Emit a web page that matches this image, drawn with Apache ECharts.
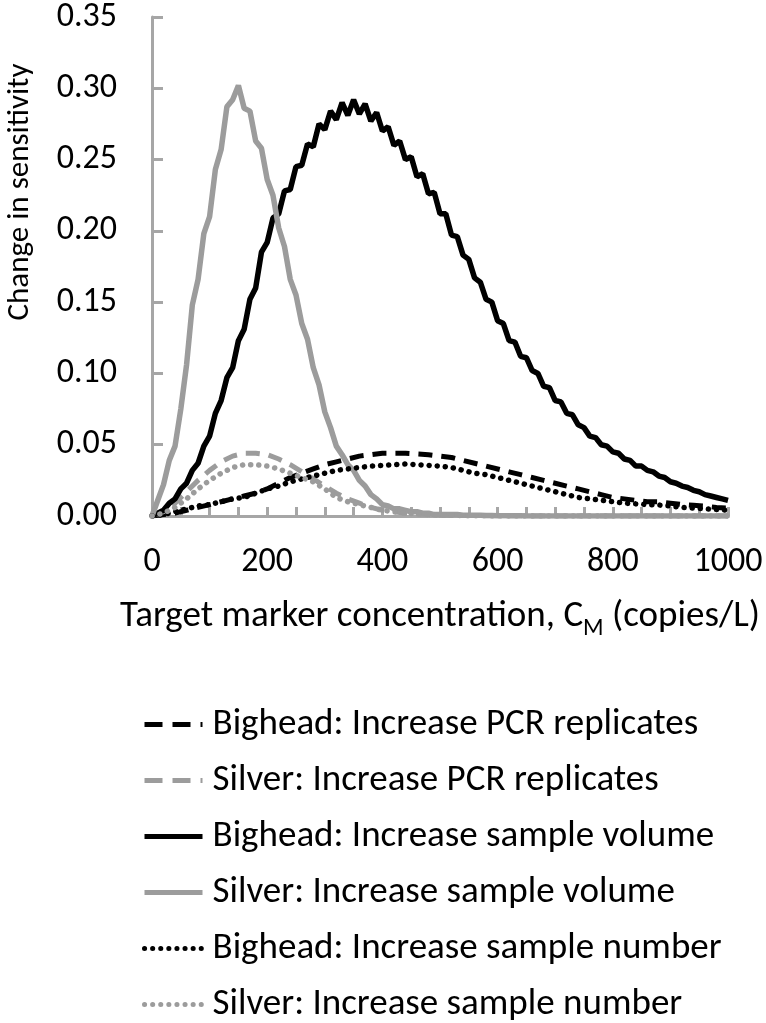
<!DOCTYPE html>
<html>
<head>
<meta charset="utf-8">
<script src="https://cdn.jsdelivr.net/npm/echarts@6/dist/echarts.min.js"></script>
<style>
  html, body { margin: 0; padding: 0; background: #fff; }
  #chart { width: 766px; height: 1023px; }
</style>
</head>
<body>
<div id="chart"></div>
<script>
// concentrations sampled every 10 and every 20 copies/L
const conc10 = [0,10,20,30,40,50,60,70,80,90,100,110,120,130,140,150,160,170,180,190,200,210,220,230,240,250,260,270,280,290,300,310,320,330,340,350,360,370,380,390,400,410,420,430,440,450,460,470,480,490,500,510,520,530,540,550,560,570,580,590,600,610,620,630,640,650,660,670,680,690,700,710,720,730,740,750,760,770,780,790,800,810,820,830,840,850,860,870,880,890,900,910,920,930,940,950,960,970,980,990,1000];
const conc20 = [0,20,40,60,80,100,120,140,160,180,200,220,240,260,280,300,320,340,360,380,400,420,440,460,480,500,520,540,560,580,600,620,640,660,680,700,720,740,760,780,800,820,840,860,880,900,920,940,960,980,1000];

// Bighead: Increase sample volume (noisy, per conc10)
const bigheadVolume = [0.000,0.002,0.004,0.009,0.012,0.019,0.023,0.032,0.037,0.049,0.056,0.072,0.081,0.097,0.104,0.123,0.131,0.152,0.160,0.185,0.192,0.209,0.212,0.228,0.229,0.245,0.246,0.261,0.259,0.275,0.271,0.284,0.278,0.290,0.281,0.292,0.282,0.289,0.277,0.283,0.270,0.273,0.260,0.263,0.250,0.252,0.238,0.240,0.226,0.227,0.212,0.212,0.197,0.196,0.183,0.180,0.167,0.164,0.152,0.150,0.137,0.135,0.123,0.122,0.112,0.111,0.102,0.100,0.091,0.090,0.081,0.080,0.072,0.071,0.064,0.062,0.056,0.055,0.050,0.049,0.045,0.044,0.040,0.039,0.035,0.035,0.032,0.031,0.028,0.027,0.024,0.023,0.021,0.020,0.018,0.017,0.015,0.014,0.013,0.012,0.011];
// Silver: Increase sample volume (noisy, per conc10)
const silverVolume = [0.000,0.011,0.022,0.039,0.049,0.075,0.106,0.148,0.166,0.198,0.210,0.243,0.257,0.287,0.292,0.302,0.286,0.284,0.263,0.258,0.236,0.225,0.202,0.189,0.166,0.155,0.135,0.124,0.104,0.092,0.073,0.062,0.049,0.043,0.036,0.032,0.025,0.021,0.015,0.012,0.008,0.007,0.005,0.005,0.004,0.003,0.003,0.002,0.002,0.001,0.001,0.001,0.001,0.001,0.0005,0.0005,0.0005,0.0005,0.0003,0.0003,0.0002,0.0002,0.0001,0.0001,0.0001,0,0,0,0,0,0,0,0,0,0,0,0,0,0,0,0,0,0,0,0,0,0,0,0,0,0,0,0,0,0,0,0,0,0,0,0];

// smoother curves, per conc20
const bigheadPcr = [0,0.001,0.002,0.004,0.006,0.008,0.010,0.012,0.014,0.016,0.019,0.023,0.027,0.030,0.033,0.036,0.038,0.040,0.042,0.043,0.044,0.044,0.044,0.0435,0.043,0.042,0.041,0.039,0.037,0.035,0.033,0.031,0.029,0.027,0.025,0.023,0.021,0.019,0.017,0.015,0.013,0.012,0.011,0.010,0.010,0.009,0.008,0.0075,0.007,0.006,0.0055];
const silverPcr = [0,0.003,0.009,0.017,0.025,0.032,0.038,0.042,0.044,0.044,0.043,0.040,0.036,0.031,0.026,0.021,0.016,0.012,0.009,0.006,0.004,0.003,0.002,0.0015,0.001,0.0007,0.0005,0.0004,0.0003,0.0002,0.0001,0,0,0,0,0,0,0,0,0,0,0,0,0,0,0,0,0,0,0,0];
const bigheadNumber = [0,0.001,0.003,0.005,0.007,0.008,0.010,0.012,0.013,0.016,0.019,0.021,0.024,0.026,0.028,0.030,0.032,0.033,0.034,0.035,0.0355,0.036,0.0365,0.036,0.0355,0.035,0.034,0.032,0.030,0.029,0.027,0.025,0.023,0.021,0.019,0.017,0.015,0.013,0.012,0.011,0.010,0.009,0.0085,0.008,0.0077,0.007,0.006,0.0055,0.005,0.0045,0.004];
const silverNumber = [0,0.002,0.006,0.012,0.019,0.025,0.030,0.034,0.036,0.036,0.035,0.033,0.030,0.027,0.024,0.019,0.013,0.010,0.008,0.006,0.004,0.003,0.002,0.0015,0.001,0.0007,0.0005,0.0003,0.0002,0.0001,0,0,0,0,0,0,0,0,0,0,0,0,0,0,0,0,0,0,0,0,0];

const seriesNames = [
  "Bighead: Increase PCR replicates",
  "Silver: Increase PCR replicates",
  "Bighead: Increase sample volume",
  "Silver: Increase sample volume",
  "Bighead: Increase sample number",
  "Silver: Increase sample number",
];

const BLACK = "#000000";
const GREY = "#9c9c9c";
const AXIS = "#a6a6a6";
const FONT = "Carlito, Lato, 'Open Sans', sans-serif";

const DASH = [14, 9];
const DOT = [0.1, 8];
// legend icons draw dashes shorter than the plot does, so stretch them
const LEGEND_DASH = [18, 10];

const pairs = (xs, ys) => xs.map((x, i) => [x, ys[i]]);

function line(name, data, color, type, width) {
  return {
    name,
    type: "line",
    data,
    symbol: "none",
    showSymbol: false,
    animation: false,
    lineStyle: { color, width, type, cap: type === DOT ? "round" : "butt" },
    itemStyle: { color },
  };
}

const legendData = seriesNames.map((name, i) =>
  i < 2 ? { name, lineStyle: { type: LEGEND_DASH } } : { name }
);

const chart = echarts.init(document.getElementById("chart"));

chart.setOption({
  backgroundColor: "#fff",
  animation: false,
  grid: { left: 152, right: 38, top: 16, height: 500 },
  legend: {
    orient: "vertical",
    left: 142,
    top: 706,
    padding: 0,
    itemWidth: 58,
    itemHeight: 14,
    itemGap: 19,
    itemStyle: { opacity: 0, borderWidth: 0 },
    lineStyle: { width: 5 },
    textStyle: { fontFamily: FONT, fontSize: 37, color: "#000", padding: [0, 0, 0, 5] },
    data: legendData,
  },
  xAxis: {
    type: "value",
    min: 0,
    max: 1000,
    interval: 200,
    axisLine: { lineStyle: { color: AXIS, width: 3 } },
    axisTick: { show: true, inside: true, length: 9, lineStyle: { color: AXIS, width: 3 } },
    minorTick: { show: true, splitNumber: 4, length: 9, lineStyle: { color: AXIS, width: 3 } },
    splitLine: { show: false },
    axisLabel: {
      fontFamily: FONT,
      fontSize: 34,
      color: "#000",
      margin: 29,
      formatter: (v) => String(v),
    },
    name: "Target marker concentration, {n|C}{sub|M}{n| (copies/L)}",
    nameLocation: "middle",
    nameGap: 77,
    nameTextStyle: {
      fontFamily: FONT,
      fontSize: 37,
      color: "#000",
      rich: {
        n: { fontFamily: FONT, fontSize: 37, color: "#000" },
        sub: { fontFamily: FONT, fontSize: 24, color: "#000", padding: [24, 0, 0, 0] },
      },
    },
  },
  yAxis: {
    type: "value",
    min: 0,
    max: 0.35,
    interval: 0.05,
    axisLine: { show: true, lineStyle: { color: AXIS, width: 3 } },
    axisTick: { show: true, inside: true, length: 11, lineStyle: { color: AXIS, width: 3 } },
    splitLine: { show: false },
    axisLabel: {
      fontFamily: FONT,
      fontSize: 34,
      color: "#000",
      margin: 35,
      formatter: (v) => v.toFixed(2),
    },
  },
  graphic: [
    {
      type: "text",
      x: 20,
      y: 192,
      rotation: Math.PI / 2,
      style: {
        text: "Change in sensitivity",
        fontFamily: FONT,
        fontSize: 31,
        fill: "#000",
        textAlign: "center",
        textVerticalAlign: "middle",
      },
    },
  ],
  series: [
    line(seriesNames[0], pairs(conc20, bigheadPcr), BLACK, DASH, 5),
    line(seriesNames[1], pairs(conc20, silverPcr), GREY, DASH, 5),
    line(seriesNames[2], pairs(conc10, bigheadVolume), BLACK, "solid", 5.5),
    line(seriesNames[3], pairs(conc10, silverVolume), GREY, "solid", 5.5),
    line(seriesNames[4], pairs(conc20, bigheadNumber), BLACK, DOT, 5.5),
    line(seriesNames[5], pairs(conc20, silverNumber), GREY, DOT, 5.5),
  ],
});
</script>
</body>
</html>
